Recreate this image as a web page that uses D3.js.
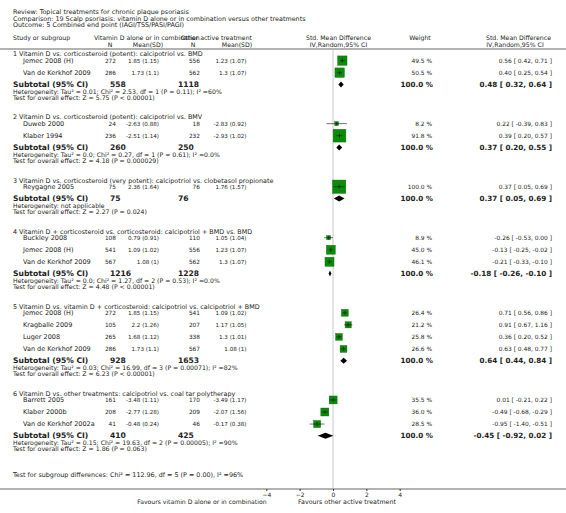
<!DOCTYPE html>
<html><head><meta charset="utf-8">
<script src="https://cdn.jsdelivr.net/npm/d3@7"></script>
<style>
body{margin:0;background:#fff;}
svg{display:block;font-family:"DejaVu Sans",Verdana,sans-serif;}
</style></head>
<body>
<script>
// ---------- data ----------
const headerLines = [
  "Review:  Topical treatments for chronic plaque psoriasis",
  "Comparison:  19 Scalp psoriasis: vitamin D alone or in combination versus other treatments",
  "Outcome:  5 Combined end point (IAGI/TSS/PASI/PAGI)"
];
const groupTitles = [
  "1 Vitamin D vs. corticosteroid (potent): calcipotriol vs. BMD",
  "2 Vitamin D vs. corticosteroid (potent): calcipotriol vs. BMV",
  "3 Vitamin D vs. corticosteroid (very potent): calcipotriol vs. clobetasol propionate",
  "4 Vitamin D + corticosteroid vs. corticosteroid: calcipotriol + BMD vs. BMD",
  "5 Vitamin D vs. vitamin D + corticosteroid: calcipotriol vs. calcipotriol + BMD",
  "6 Vitamin D vs. other treatments: calcipotriol vs. coal tar polytherapy"
];
const studyGroup = [0,0,1,1,2,3,3,3,4,4,4,4,5,5,5];
const studyNames = ["Jemec 2008 (H)","Van de Kerkhof 2009","Duweb 2000","Klaber 1994","Reygagne 2005",
  "Buckley 2008","Jemec 2008 (H)","Van de Kerkhof 2009",
  "Jemec 2008 (H)","Kragballe 2009","Luger 2008","Van de Kerkhof 2009",
  "Barrett 2005","Klaber 2000b","Van de Kerkhof 2002a"];
const expN = [272,286,24,236,75,108,541,567,272,105,265,286,161,208,41];
const expMeanSD = ["1.85 (1.15)","1.73 (1.1)","-2.63 (0.88)","-2.51 (1.14)","2.36 (1.64)",
  "0.79 (0.91)","1.09 (1.02)","1.08 (1)",
  "1.85 (1.15)","2.2 (1.26)","1.68 (1.12)","1.73 (1.1)",
  "-3.48 (1.11)","-2.77 (1.28)","-0.48 (0.24)"];
const ctlN = [556,562,18,232,76,110,556,562,541,207,338,567,170,209,46];
const ctlMeanSD = ["1.23 (1.07)","1.3 (1.07)","-2.83 (0.92)","-2.93 (1.02)","1.76 (1.57)",
  "1.05 (1.04)","1.23 (1.07)","1.3 (1.07)",
  "1.09 (1.02)","1.17 (1.05)","1.3 (1.01)","1.08 (1)",
  "-3.49 (1.17)","-2.07 (1.56)","-0.17 (0.38)"];
const weights = [49.5,50.5,8.2,91.8,100.0,8.9,45.0,46.1,26.4,21.2,25.8,26.6,35.5,36.0,28.5];
const smd   = [0.56,0.40,0.22,0.39,0.37,-0.26,-0.13,-0.21,0.71,0.91,0.36,0.63,0.01,-0.49,-0.95];
const ciLow = [0.42,0.25,-0.39,0.20,0.05,-0.53,-0.25,-0.33,0.56,0.67,0.20,0.48,-0.21,-0.68,-1.40];
const ciHigh= [0.71,0.54,0.83,0.57,0.69,0.00,-0.02,-0.10,0.86,1.16,0.52,0.77,0.22,-0.29,-0.51];
const subN1 = [558,260,75,1216,928,410];
const subN2 = [1118,250,76,1228,1653,425];
const subSMD = [0.48,0.37,0.37,-0.18,0.64,-0.45];
const subLow = [0.32,0.20,0.05,-0.26,0.44,-0.92];
const subHigh= [0.64,0.55,0.69,-0.10,0.84,0.02];
const heteroText = [
  "Heterogeneity: Tau\u00B2 = 0.01; Chi\u00B2 = 2.53, df = 1 (P = 0.11); I\u00B2 =60%",
  "Heterogeneity: Tau\u00B2 = 0.0; Chi\u00B2 = 0.27, df = 1 (P = 0.61); I\u00B2 =0.0%",
  "Heterogeneity: not applicable",
  "Heterogeneity: Tau\u00B2 = 0.0; Chi\u00B2 = 1.27, df = 2 (P = 0.53); I\u00B2 =0.0%",
  "Heterogeneity: Tau\u00B2 = 0.03; Chi\u00B2 = 16.99, df = 3 (P = 0.00071); I\u00B2 =82%",
  "Heterogeneity: Tau\u00B2 = 0.15; Chi\u00B2 = 19.63, df = 2 (P = 0.00005); I\u00B2 =90%"
];
const overallText = [
  "Test for overall effect: Z = 5.75 (P < 0.00001)",
  "Test for overall effect: Z = 4.18 (P = 0.000029)",
  "Test for overall effect: Z = 2.27 (P = 0.024)",
  "Test for overall effect: Z = 4.48 (P < 0.00001)",
  "Test for overall effect: Z = 6.23 (P < 0.00001)",
  "Test for overall effect: Z = 1.86 (P = 0.063)"
];
const subgroupDiffText = "Test for subgroup differences: Chi\u00B2 = 112.96, df = 5 (P = 0.00), I\u00B2 =96%";
const xTicks = [-4,-2,0,2,4];
const favourLeft = "Favours vitamin D alone or in combination";
const favourRight = "Favours other active treatment";

// ---------- layout ----------
const W = 566, H = 513;
const svg = d3.select("body").append("svg").attr("width", W).attr("height", H);
const x = d3.scaleLinear().domain([-4, 4]).range([266.3, 399.7]);
const fs = 6.4, fsB = 7.6;
const txt = "#222";

function text(xp, yp, s, opt = {}) {
  return svg.append("text").attr("x", xp).attr("y", yp)
    .attr("dominant-baseline", "central")
    .attr("text-anchor", opt.anchor || "start")
    .attr("font-size", opt.size || fs)
    .attr("font-weight", opt.bold ? "bold" : "normal")
    .attr("fill", opt.fill || txt).text(s);
}

headerLines.forEach((s, i) => text(13, 12.0 + i * 6.7, s, {size: 6.4}));

// column headers
const h1 = 37.6, h2 = 44.5, hs = 6.2;
text(13, h1, "Study or subgroup", {size: hs});
text(94, h1, "Vitamin D alone or in combination", {size: hs});
text(252, h1, "Other active treatment", {anchor: "end", size: hs});
text(110, h2, "N", {anchor: "middle", size: hs});
text(148, h2, "Mean(SD)", {anchor: "middle", size: hs});
text(193, h2, "N", {anchor: "middle", size: hs});
text(237, h2, "Mean(SD)", {anchor: "middle", size: hs});
text(338.5, h1, "Std. Mean Difference", {anchor: "middle", size: hs});
text(338.5, h2, "IV,Random,95% CI", {anchor: "middle", size: hs});
text(420, h1, "Weight", {anchor: "middle", size: hs});
text(518.5, h1, "Std. Mean Difference", {anchor: "middle", size: hs});
text(515, h2, "IV,Random,95% CI", {anchor: "middle", size: hs});

// separator line under headers
svg.append("line").attr("x1", 0).attr("x2", W).attr("y1", 49).attr("y2", 49)
  .attr("stroke", "#999").attr("stroke-width", 1.5);

// zero line
svg.append("line").attr("x1", x(0)).attr("x2", x(0)).attr("y1", 49.5).attr("y2", 489)
  .attr("stroke", "#c8c8c8").attr("stroke-width", 1);

const f2 = v => v.toFixed(2);
const ciStr = (e, l, h) => `${f2(e)} [ ${f2(l)}, ${f2(h)} ]`;

let y = 55;
const step = 12.05;
groupTitles.forEach((title, g) => {
  text(13, y - 0.6, title);
  let sy = y + 5.6;
  const idx = d3.range(studyGroup.length).filter(i => studyGroup[i] === g);
  idx.forEach((i, k) => {
    const yy = sy + k * step;
    text(23, yy + 0.3, studyNames[i], {size: 6.5});
    text(116, yy, expN[i], {anchor: "end", size: 5.8});
    text(159, yy, expMeanSD[i], {anchor: "end", size: 5.6});
    text(200, yy, ctlN[i], {anchor: "end", size: 5.8});
    text(246.5, yy, ctlMeanSD[i], {anchor: "end", size: 5.6});
    text(432, yy, weights[i].toFixed(1) + " %", {anchor: "end", size: 5.9});
    text(552, yy, ciStr(smd[i], ciLow[i], ciHigh[i]), {anchor: "end", size: 5.9});
    const side = 13.3 * Math.sqrt(weights[i] / 100);
    svg.append("rect").attr("x", x(smd[i]) - side / 2).attr("y", yy - side / 2)
      .attr("width", side).attr("height", side).attr("fill", "#0a8c0a")
      .attr("stroke", "#066606").attr("stroke-width", 0.4);
    svg.append("line").attr("x1", x(ciLow[i])).attr("x2", x(ciHigh[i]))
      .attr("y1", yy).attr("y2", yy).attr("stroke", "#111").attr("stroke-width", 0.6);
    svg.append("line").attr("x1", x(smd[i])).attr("x2", x(smd[i]))
      .attr("y1", yy - 2).attr("y2", yy + 2).attr("stroke", "#111").attr("stroke-width", 0.6);
  });
  const subY = sy + (idx.length - 1) * step + 11.8;
  text(13, subY - 0.3, "Subtotal (95% CI)", {bold: true, size: fsB});
  text(110, subY - 0.3, subN1[g], {bold: true, size: fsB});
  text(178, subY - 0.3, subN2[g], {bold: true, size: fsB});
  text(433, subY, "100.0 %", {bold: true, size: 7.2, anchor: "end"});
  text(552, subY, ciStr(subSMD[g], subLow[g], subHigh[g]), {bold: true, size: 7.2, anchor: "end"});
  const dh = 3;
  svg.append("path").attr("d", `M${x(subLow[g])},${subY} L${x(subSMD[g])},${subY - dh} L${x(subHigh[g])},${subY} L${x(subSMD[g])},${subY + dh} Z`)
    .attr("fill", "#000");
  text(13, subY + 6.9, heteroText[g], {size: 6.2});
  text(13, subY + 12.7, overallText[g], {size: 6.2});
  y = subY + 12.6 + 21;
});

text(13, 475, subgroupDiffText, {size: 6.4});

// axis
const axisY = 489;
svg.append("line").attr("x1", 0).attr("x2", W).attr("y1", axisY).attr("y2", axisY)
  .attr("stroke", "#999").attr("stroke-width", 1.5);
const axisG = svg.append("g").attr("transform", `translate(0,${axisY})`)
  .call(d3.axisBottom(x).tickValues(xTicks).tickSize(2).tickPadding(1.5).tickFormat(d3.format("d")));
axisG.select(".domain").remove();
axisG.selectAll(".tick line").attr("stroke", "#333");
axisG.selectAll(".tick text").attr("font-size", 6).attr("fill", txt)
  .attr("font-family", '"DejaVu Sans",Verdana,sans-serif');
text(266.5, 501.7, favourLeft, {anchor: "end", size: 6.1});
text(298, 501.5, favourRight, {size: 6.3});
</script>
</body></html>
